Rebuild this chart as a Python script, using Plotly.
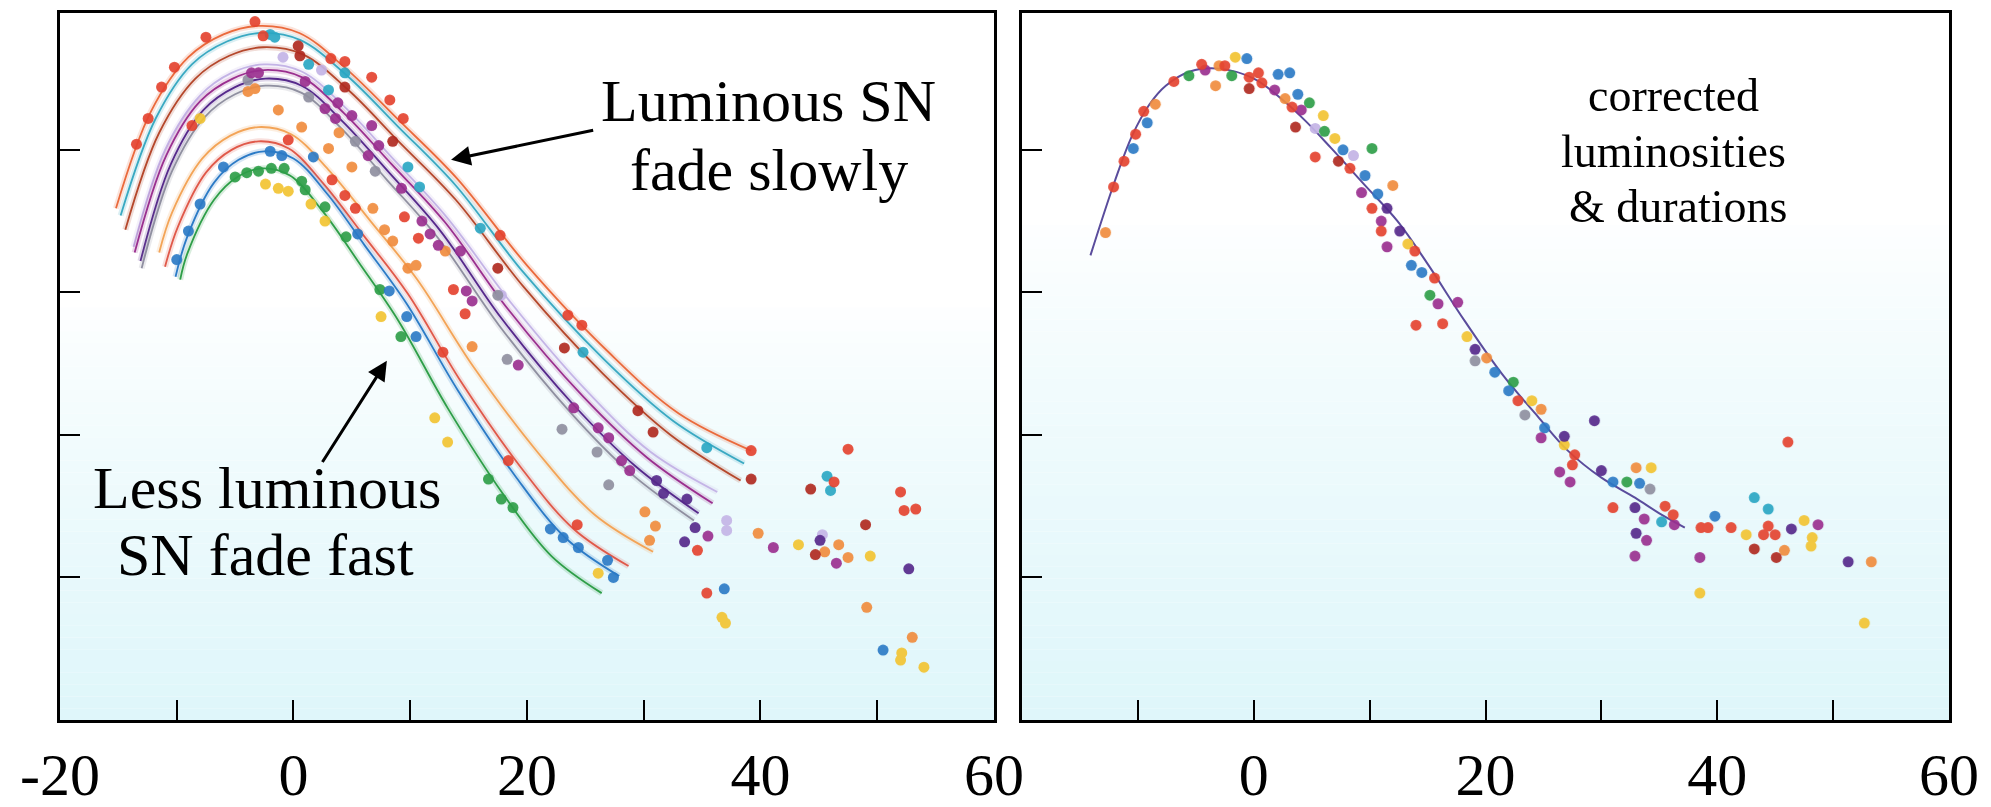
import plotly.graph_objects as go

# ---- left panel: light-curve fits ----
orange_top_x = [-15.2, -12.2, -9.0, -6.0, -3.0, 0.5, 4.5, 9.0, 14.0, 20.0, 27.0, 33.0, 39.2]
orange_top_y = [3.59, 4.27, 4.65, 4.81, 4.87, 4.82, 4.57, 4.21, 3.80, 3.19, 2.58, 2.15, 1.89]
cyan_x = [-14.8, -11.8, -8.7, -5.7, -2.8, 0.6, 4.6, 9.0, 13.9, 19.7, 26.6, 32.5, 38.6]
cyan_y = [3.54, 4.22, 4.60, 4.76, 4.82, 4.77, 4.52, 4.16, 3.75, 3.14, 2.53, 2.10, 1.80]
brown_x = [-14.4, -11.5, -8.4, -5.5, -2.6, 0.8, 4.7, 9.0, 13.9, 19.7, 26.5, 32.3, 38.3]
brown_y = [3.44, 4.12, 4.50, 4.66, 4.72, 4.67, 4.42, 4.06, 3.65, 3.04, 2.43, 2.00, 1.68]
lavender_x = [-13.7, -11.0, -8.0, -5.3, -2.5, 0.7, 4.4, 8.5, 13.1, 18.7, 25.1, 30.6, 36.3]
lavender_y = [3.32, 4.00, 4.38, 4.54, 4.60, 4.55, 4.30, 3.94, 3.53, 2.92, 2.31, 1.88, 1.60]
magenta_x = [-13.6, -10.9, -8.0, -5.2, -2.5, 0.7, 4.3, 8.4, 13.0, 18.4, 24.8, 30.3, 35.9]
magenta_y = [3.28, 3.96, 4.34, 4.50, 4.56, 4.51, 4.26, 3.90, 3.49, 2.88, 2.27, 1.84, 1.52]
indigo_x = [-13.1, -10.5, -7.7, -5.0, -2.4, 0.7, 4.2, 8.2, 12.6, 17.8, 24.0, 29.3, 34.7]
indigo_y = [3.22, 3.90, 4.28, 4.44, 4.50, 4.45, 4.20, 3.84, 3.43, 2.82, 2.21, 1.78, 1.45]
grey_x = [-13.0, -10.4, -7.6, -5.0, -2.4, 0.7, 4.1, 8.0, 12.4, 17.6, 23.7, 28.9, 34.3]
grey_y = [3.17, 3.85, 4.23, 4.39, 4.45, 4.40, 4.15, 3.79, 3.38, 2.77, 2.16, 1.73, 1.40]
orange_x = [-11.5, -10.4, -7.8, -5.4, -3.0, -0.2, 3.0, 6.6, 10.6, 15.4, 21.0, 25.8, 30.8]
orange_y = [3.28, 3.56, 3.94, 4.10, 4.16, 4.11, 3.86, 3.50, 3.09, 2.48, 1.87, 1.44, 1.18]
red_x = [-11.0, -9.9, -7.5, -5.3, -3.0, -0.4, 2.6, 6.0, 9.8, 14.3, 19.5, 24.0, 28.7]
red_y = [3.18, 3.46, 3.84, 4.00, 4.06, 4.01, 3.76, 3.40, 2.99, 2.38, 1.77, 1.34, 1.08]
blue_x = [-10.1, -9.1, -6.8, -4.7, -2.5, 0.0, 2.9, 6.1, 9.7, 14.1, 19.1, 23.4, 27.9]
blue_y = [3.11, 3.39, 3.77, 3.93, 3.99, 3.94, 3.69, 3.33, 2.92, 2.31, 1.70, 1.27, 1.01]
green_x = [-9.7, -9.1, -6.8, -4.8, -2.7, -0.3, 2.5, 5.6, 9.0, 13.2, 18.0, 22.1, 26.4]
green_y = [3.09, 3.27, 3.65, 3.81, 3.87, 3.82, 3.57, 3.21, 2.80, 2.19, 1.58, 1.15, 0.89]

# ---- left panel: photometry points by colour ----
l_red_x = [-13.45, -12.45, -11.3, -10.2, -7.5, -3.3, -2.6, 3.2, 4.4, 6.7, 8.25, 9.4, 17.7, 23.5, 24.7, 39.2,
           -8.7, -0.45, 3.3, 4.4, 5.3, 9.5, 10.7, 13.7, 14.7, 12.8, 18.4, 24.3, 47.5, 46.3, 52.0, 52.3, 53.3, 35.4, 34.6]
l_red_y = [4.04, 4.22, 4.44, 4.58, 4.79, 4.90, 4.80, 4.64, 4.62, 4.51, 4.35, 4.22, 3.40, 2.84, 2.77, 1.89,
           4.17, 4.07, 3.79, 3.68, 3.59, 3.53, 3.38, 3.02, 2.85, 2.58, 1.82, 1.37, 1.90, 1.67, 1.60, 1.47, 1.48, 0.89, 1.19]
l_darkred_x = [0.4, 0.55, 4.4, 8.5, 17.5, 23.2, 29.5, 30.8, 39.2, 44.3, 49.0, 44.7]
l_darkred_y = [4.73, 4.66, 4.44, 4.06, 3.17, 2.61, 2.17, 2.02, 1.69, 1.62, 1.37, 1.16]
l_cyan_x = [-2.0, -1.6, 1.3, 3.0, 4.4, 9.8, 10.8, 16.0, 24.8, 35.4, 45.7, 46.0]
l_cyan_y = [4.81, 4.79, 4.60, 4.42, 4.54, 3.88, 3.74, 3.45, 2.58, 1.91, 1.71, 1.61]
l_blue_x = [-10.0, -9.0, -8.0, -6.0, -2.0, -1.0, 1.7, 5.5, 8.2, 9.7, 10.5, 22.0, 23.1, 24.4, 26.9, 27.4, 36.9, 50.5]
l_blue_y = [3.23, 3.43, 3.62, 3.88, 3.99, 3.96, 3.95, 3.41, 3.01, 2.83, 2.69, 1.34, 1.28, 1.21, 1.12, 1.00, 0.92, 0.49]
l_green_x = [-5.0, -4.0, -3.0, -1.9, -0.8, 0.7, 1.0, 2.7, 4.5, 7.4, 9.2, 16.7, 17.8, 18.8]
l_green_y = [3.81, 3.84, 3.85, 3.87, 3.87, 3.78, 3.72, 3.60, 3.39, 3.02, 2.69, 1.69, 1.55, 1.49]
l_yellow_x = [-8.0, -2.4, -1.3, -0.45, 1.5, 2.7, 7.5, 12.1, 13.2, 26.1, 43.25, 49.4, 37.0, 36.7, 52.1, 52.0, 54.0]
l_yellow_y = [4.22, 3.76, 3.73, 3.71, 3.62, 3.50, 2.83, 2.12, 1.95, 1.03, 1.23, 1.15, 0.68, 0.72, 0.47, 0.42, 0.37]
l_orange_x = [-3.9, -3.3, -1.3, 0.7, 3.0, 3.9, 5.0, 6.8, 7.8, 8.5, 9.8, 10.5, 13.0, 15.3,
              30.1, 31.0, 30.5, 39.8, 46.7, 45.5, 47.5, 49.1, 53.0]
l_orange_y = [4.41, 4.43, 4.28, 4.16, 4.01, 4.12, 3.88, 3.59, 3.44, 3.36, 3.17, 3.19, 3.29, 2.62,
              1.46, 1.36, 1.26, 1.31, 1.23, 1.18, 1.14, 0.79, 0.58]
l_purple_x = [-3.6, -3.0, 1.0, 2.7, 3.6, 3.8, 5.0, 6.7, 6.4, 7.3, 9.25, 11.0, 11.7, 12.4, 14.3, 14.8, 15.3,
              19.25, 24.0, 26.1, 27.0, 28.1, 28.8, 41.1, 35.5, 46.5]
l_purple_y = [4.54, 4.54, 4.48, 4.29, 4.22, 4.33, 4.24, 4.17, 3.96, 4.03, 3.73, 3.50, 3.41, 3.33, 3.29, 3.01, 2.94,
              2.49, 2.19, 2.05, 1.98, 1.82, 1.75, 1.21, 1.29, 1.10]
l_indigo_x = [31.1, 31.7, 33.7, 34.4, 33.5, 45.1, 52.7]
l_indigo_y = [1.68, 1.59, 1.55, 1.35, 1.25, 1.26, 1.06]
l_grey_x = [-3.9, 1.3, 5.3, 7.0, 17.5, 18.3, 23.0, 26.0, 27.0]
l_grey_y = [4.49, 4.37, 4.06, 3.85, 2.98, 2.53, 2.04, 1.88, 1.65]
l_lavender_x = [-0.9, 2.4, 17.8, 37.1, 37.1, 45.3]
l_lavender_y = [4.65, 4.56, 2.98, 1.40, 1.33, 1.30]

# ---- right panel: corrected template and points ----
template_x = [-14.1, -12.0, -10.5, -9.0, -7.6, -5.5, -3.0, 0.0, 2.5, 4.5, 6.7, 9.5, 12.4, 15.0, 18.2,
              21.4, 24.5, 27.1, 30.0, 32.9, 35.0, 37.2]
template_y = [3.26, 3.78, 4.10, 4.32, 4.45, 4.55, 4.57, 4.50, 4.35, 4.20, 4.01, 3.76, 3.50, 3.20, 2.80,
              2.43, 2.13, 1.89, 1.70, 1.56, 1.45, 1.35]

r_red_x = [-12.1, -11.2, -10.2, -9.5, -6.9, -4.5, -2.5, -0.4, 0.4, 0.7, 3.3, 5.3, 8.3, 10.2, 11.0, 13.9, 15.6,
           16.3, 14.0, 22.8, 27.7, 27.5, 31.0, 35.5, 36.2, 38.6, 39.2, 41.2, 44.4, 44.0, 45.0, 46.1]
r_red_y = [3.74, 3.92, 4.11, 4.27, 4.48, 4.60, 4.59, 4.51, 4.54, 4.47, 4.30, 3.95, 3.87, 3.59, 3.43, 3.29, 3.10,
           2.78, 2.77, 2.24, 1.86, 1.79, 1.49, 1.50, 1.44, 1.35, 1.35, 1.35, 1.36, 1.30, 1.30, 1.95]
r_darkred_x = [-0.4, 3.6, 7.3, 43.2, 45.1]
r_darkred_y = [4.43, 4.16, 3.92, 1.20, 1.14]
r_orange_x = [-12.8, -8.5, -3.3, -3.0, 2.7, 12.0, 20.1, 24.8, 33.0, 45.8, 53.3]
r_orange_y = [3.42, 4.32, 4.45, 4.59, 4.36, 3.75, 2.54, 2.18, 1.77, 1.19, 1.11]
r_blue_x = [-10.4, -9.2, -0.6, 2.1, 3.1, 3.8, 7.7, 9.6, 10.7, 13.6, 14.5, 20.8, 22.0, 25.1, 31.0, 33.3, 39.8]
r_blue_y = [4.01, 4.19, 4.64, 4.53, 4.54, 4.39, 4.00, 3.82, 3.69, 3.19, 3.14, 2.44, 2.31, 2.05, 1.67, 1.66, 1.43]
r_cyan_x = [35.2, 43.2, 44.4]
r_cyan_y = [1.39, 1.56, 1.48]
r_green_x = [-5.6, -1.9, 4.8, 6.1, 10.2, 15.2, 22.4, 32.2]
r_green_y = [4.52, 4.52, 4.33, 4.13, 4.01, 2.98, 2.37, 1.67]
r_yellow_x = [-1.6, 6.0, 7.0, 13.3, 18.4, 24.0, 26.8, 34.3, 42.5, 47.5, 48.2, 48.1, 38.5, 52.7]
r_yellow_y = [4.65, 4.24, 4.08, 3.34, 2.69, 2.24, 1.93, 1.77, 1.30, 1.40, 1.28, 1.22, 0.89, 0.68]
r_purple_x = [-4.2, 1.8, 4.1, 9.3, 11.0, 11.5, 15.9, 17.6, 24.8, 26.4, 27.3, 33.7, 36.3, 33.9, 32.9, 38.5, 48.7]
r_purple_y = [4.56, 4.42, 4.28, 3.70, 3.50, 3.32, 2.92, 2.93, 1.98, 1.74, 1.67, 1.41, 1.37, 1.26, 1.15, 1.14, 1.37]
r_indigo_x = [11.5, 12.6, 19.1, 26.8, 29.4, 30.0, 32.9, 33.0, 46.4, 51.3]
r_indigo_y = [3.59, 3.43, 2.60, 1.99, 2.10, 1.75, 1.49, 1.31, 1.34, 1.11]
r_lavender_x = [5.3, 8.6]
r_lavender_y = [4.15, 3.96]
r_grey_x = [19.1, 23.4, 34.2]
r_grey_y = [2.52, 2.14, 1.62]

x_tickvals = [-20, -10, 0, 10, 20, 30, 40, 50, 60]
left_ticktext = ["-20", "", "0", "", "20", "", "40", "", "60"]
right_ticktext = ["", "", "0", "", "20", "", "40", "", "60"]
y_tickvals = [1, 2, 3, 4]

COL = {
    "red": "#e4432f", "darkred": "#b02a20", "orange": "#f08c3e", "yellow": "#f2c332",
    "green": "#2e9e48", "cyan": "#2ba7c4", "blue": "#2c7bc6", "purple": "#9a2f8f",
    "indigo": "#56298b", "lavender": "#c4b4e6", "grey": "#8f8fa0", "brown": "#b5482c",
}

fig = go.Figure()

# fitted curves, each with a soft halo under it
curves = [
    (orange_top_x, orange_top_y, "#ea6a3c"), (cyan_x, cyan_y, "#3aa9c2"),
    (brown_x, brown_y, COL["brown"]), (lavender_x, lavender_y, COL["lavender"]),
    (magenta_x, magenta_y, COL["purple"]), (indigo_x, indigo_y, COL["indigo"]),
    (grey_x, grey_y, COL["grey"]), (orange_x, orange_y, "#f3a457"),
    (red_x, red_y, "#e0594a"), (blue_x, blue_y, COL["blue"]),
    (green_x, green_y, COL["green"]),
]
for cx, cy, c in curves:
    fig.add_trace(go.Scatter(x=cx, y=cy, mode="lines", line=dict(color=c, width=6, shape="spline"),
                             opacity=0.18, hoverinfo="skip", xaxis="x", yaxis="y"))
    fig.add_trace(go.Scatter(x=cx, y=cy, mode="lines", line=dict(color=c, width=1.8, shape="spline"),
                             hoverinfo="skip", xaxis="x", yaxis="y"))

left_pts = [
    (l_lavender_x, l_lavender_y, "lavender"), (l_grey_x, l_grey_y, "grey"),
    (l_yellow_x, l_yellow_y, "yellow"), (l_orange_x, l_orange_y, "orange"),
    (l_green_x, l_green_y, "green"), (l_blue_x, l_blue_y, "blue"),
    (l_cyan_x, l_cyan_y, "cyan"), (l_purple_x, l_purple_y, "purple"),
    (l_indigo_x, l_indigo_y, "indigo"), (l_darkred_x, l_darkred_y, "darkred"),
    (l_red_x, l_red_y, "red"),
]
for px_, py_, c in left_pts:
    fig.add_trace(go.Scatter(x=px_, y=py_, mode="markers", marker=dict(color=COL[c], size=11),
                             opacity=0.92, xaxis="x", yaxis="y"))

fig.add_trace(go.Scatter(x=template_x, y=template_y, mode="lines",
                         line=dict(color="#5a4c9c", width=2, shape="spline"), xaxis="x2", yaxis="y2"))

right_pts = [
    (r_lavender_x, r_lavender_y, "lavender"), (r_grey_x, r_grey_y, "grey"),
    (r_yellow_x, r_yellow_y, "yellow"), (r_orange_x, r_orange_y, "orange"),
    (r_green_x, r_green_y, "green"), (r_blue_x, r_blue_y, "blue"),
    (r_cyan_x, r_cyan_y, "cyan"), (r_purple_x, r_purple_y, "purple"),
    (r_indigo_x, r_indigo_y, "indigo"), (r_darkred_x, r_darkred_y, "darkred"),
    (r_red_x, r_red_y, "red"),
]
for px_, py_, c in right_pts:
    fig.add_trace(go.Scatter(x=px_, y=py_, mode="markers", marker=dict(color=COL[c], size=11),
                             opacity=0.92, xaxis="x2", yaxis="y2"))

# pale cyan wash towards the bottom of each panel
shapes = []
for xd, yd, start in (("x domain", "y domain", 0.40), ("x2 domain", "y2 domain", 0.28)):
    n = 60
    for i in range(n):
        f = i / n  # fraction from the top
        k = 0.0 if f < start else min(1.0, (f - start) / (1 - start)) ** 0.8
        r = round(255 - k * (255 - 222))
        g = round(255 - k * (255 - 246))
        b = round(255 - k * (255 - 250))
        shapes.append(dict(type="rect", xref=xd, yref=yd, x0=0, x1=1, y0=1 - (i + 1) / n, y1=1 - f,
                           fillcolor=f"rgb({r},{g},{b})", line=dict(width=0), layer="below"))

serif = "Liberation Serif, Times New Roman, serif"
axis_common = dict(showline=True, mirror=True, linewidth=3, linecolor="black", showgrid=False,
                   zeroline=False, ticks="inside", ticklen=20, tickwidth=2, tickcolor="black",
                   automargin=False)

big = dict(family=serif, size=60, color="black")
mid = dict(family=serif, size=46, color="black")
annotations = [
    dict(x=40.7, y=4.34, xref="x", yref="y", text="Luminous SN", showarrow=False, font=big),
    dict(x=40.7, y=3.86, xref="x", yref="y", text="fade slowly", showarrow=False, font=big),
    dict(x=-2.3, y=1.63, xref="x", yref="y", text="Less luminous", showarrow=False, font=big),
    dict(x=-2.4, y=1.16, xref="x", yref="y", text="SN fade fast", showarrow=False, font=big),
    dict(x=36.2, y=4.38, xref="x2", yref="y2", text="corrected", showarrow=False, font=mid),
    dict(x=36.2, y=3.99, xref="x2", yref="y2", text="luminosities", showarrow=False, font=mid),
    dict(x=36.6, y=3.60, xref="x2", yref="y2", text="&amp; durations", showarrow=False, font=mid),
    dict(x=13.5, y=3.93, ax=25.8, ay=4.14, xref="x", yref="y", axref="x", ayref="y", text="",
         showarrow=True, arrowhead=2, arrowsize=1.3, arrowwidth=3, arrowcolor="black"),
    dict(x=8.0, y=2.52, ax=2.4, ay=1.80, xref="x", yref="y", axref="x", ayref="y", text="",
         showarrow=True, arrowhead=2, arrowsize=1.3, arrowwidth=3, arrowcolor="black"),
]

# the page body adds an 8px margin, so the figure is 8px smaller than the window
tick_font = dict(family=serif, size=60, color="black")
fig.update_layout(
    width=1983, height=799,
    margin=dict(l=0, r=0, t=0, b=0),
    paper_bgcolor="white", plot_bgcolor="white",
    showlegend=False,
    shapes=shapes,
    annotations=annotations,
    xaxis=dict(domain=[0.0262, 0.4972], range=[-20, 60], tickvals=x_tickvals, ticktext=left_ticktext,
               tickfont=tick_font, ticklabelstandoff=0, **axis_common),
    yaxis=dict(domain=[0.1089, 0.9937], range=[0, 4.96], tickvals=y_tickvals, showticklabels=False,
               **axis_common),
    xaxis2=dict(domain=[0.5114, 0.9788], range=[-20, 60], tickvals=x_tickvals, ticktext=right_ticktext,
                tickfont=tick_font, ticklabelstandoff=0, anchor="y2", **axis_common),
    yaxis2=dict(domain=[0.1089, 0.9937], range=[0, 4.96], tickvals=y_tickvals, showticklabels=False,
                anchor="x2", **axis_common),
)

fig.write_html("out.html")
